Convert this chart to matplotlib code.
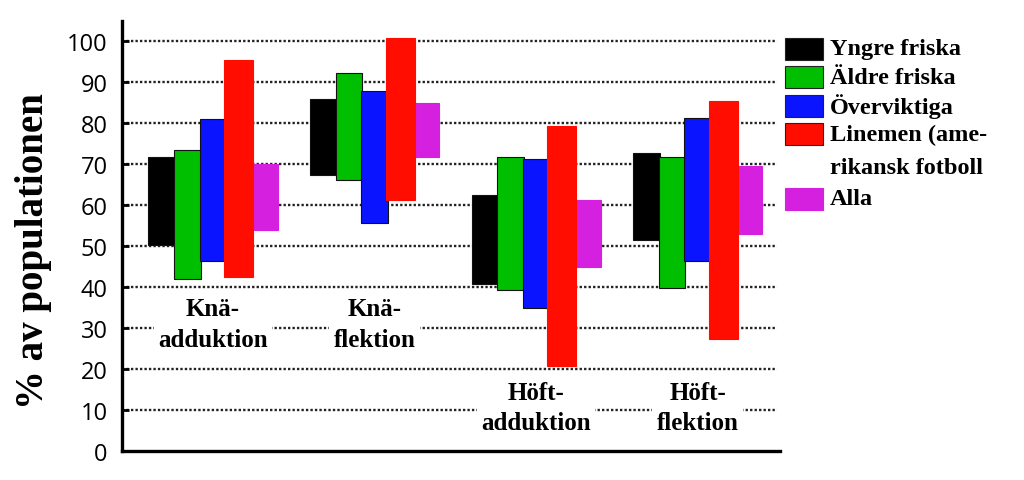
import matplotlib.pyplot as plt
import numpy as np

# floating bars: range (low, high) of % of population per movement and group
movements = ["Knä-\nadduktion", "Knä-\nflektion", "Höft-\nadduktion", "Höft-\nflektion"]
series = ["Yngre friska", "Äldre friska", "Överviktiga",
          "Linemen (ame-\nrikansk fotboll", "Alla"]
colors = ["#000000", "#00bf00", "#0a14ff", "#ff0d00", "#d520df"]

low = [
    [50.1, 67.3, 40.7, 51.5],   # Yngre friska
    [41.8, 66.1, 39.3, 39.6],   # Äldre friska
    [46.2, 55.5, 34.9, 46.2],   # Överviktiga
    [42.3, 61.2, 20.6, 27.3],   # Linemen
    [54.0, 71.7, 44.8, 52.9],   # Alla
]
high = [
    [71.8, 85.9, 62.5, 72.6],
    [73.5, 92.3, 71.7, 71.7],
    [81.0, 87.9, 71.1, 81.2],
    [95.3, 100.7, 79.2, 85.4],
    [70.0, 84.8, 61.3, 69.4],
]
yticks = list(range(0, 101, 10))

W, H = 1024, 481
fig = plt.figure(figsize=(W / 100, H / 100), dpi=100)
ax = fig.add_axes([121.7 / W, (H - 451.6) / H, (780 - 121.7) / W, (451.6 - 21.7) / H])

serif = "Liberation Serif"
x = np.arange(len(movements))
step = 0.1585
for i, name in enumerate(series):
    lo = np.array(low[i])
    hi = np.array(high[i])
    w = 0.18 if i == 3 else 0.165
    ec = "#111111" if i < 3 else colors[i]
    ax.bar(x + (i - 2) * step, hi - lo, bottom=lo, width=w, color=colors[i],
           edgecolor=ec, linewidth=0.8, zorder=3 + (i == 3))

ax.set_xlim(-0.565, 3.51)
ax.set_ylim(0, 105)
ax.set_yticks(yticks)
ax.set_xticks([])
ax.tick_params(axis="y", direction="in", length=5, width=2, pad=10,
               labelsize=17)
for lab in ax.get_yticklabels():
    lab.set_fontfamily("Open Sans")

for y in yticks[1:]:
    ax.plot([-0.565, 3.49], [y, y], color="#222222", linewidth=1.7,
            linestyle=(0, (1, 0.9)), zorder=1)

for s in ["top", "right"]:
    ax.spines[s].set_visible(False)
for s in ["left", "bottom"]:
    ax.spines[s].set_linewidth(2.4)

label_y = [30.9, 30.9, 10.6, 10.6]
for i, m in enumerate(movements):
    ax.text(x[i], label_y[i], m, ha="center", va="center", family=serif,
            fontweight="bold", fontsize=18, linespacing=1.4, zorder=2,
            bbox=dict(facecolor="white", edgecolor="none", pad=3))

ax.set_ylabel("% av populationen", family=serif, fontweight="bold",
              fontsize=28)
ax.yaxis.set_label_coords(-0.106, 0.467)

# legend drawn by hand so the two-line label keeps its box on the first line
row_y = [50, 78, 106.5, 134.5, 199.5]
for i, name in enumerate(series):
    yc = row_y[i]
    fig.patches.append(plt.Rectangle((785 / W, (H - yc - 11) / H), 38 / W, 22 / H,
                                     transform=fig.transFigure, facecolor=colors[i],
                                     edgecolor="#222222" if i < 4 else colors[i],
                                     linewidth=0.8))
    if "\n" in name:
        fig.text(830 / W, (H - yc + 10) / H, name, ha="left", va="top",
                 family=serif, fontweight="bold", fontsize=17.5, linespacing=1.8)
    else:
        fig.text(830 / W, (H - yc) / H, name, ha="left", va="center",
                 family=serif, fontweight="bold", fontsize=17.5)

fig.savefig("out.png", dpi=100)
